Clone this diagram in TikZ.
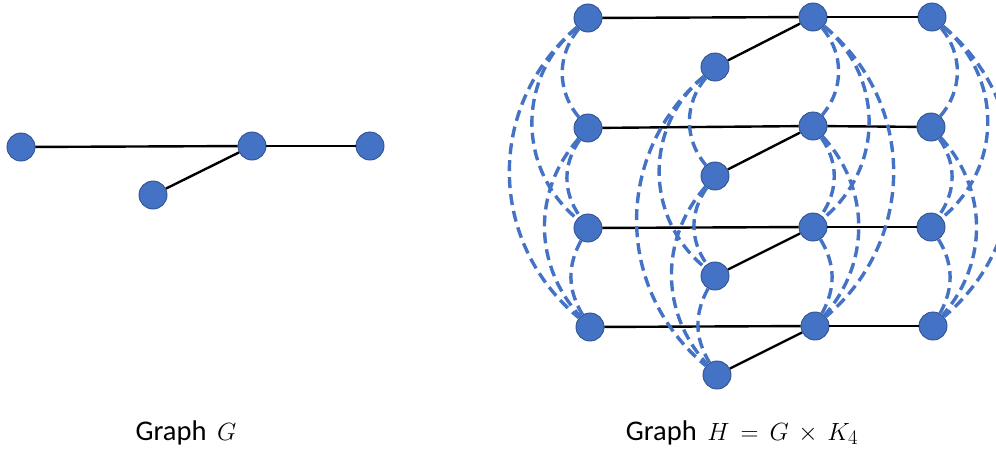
\documentclass[tikz,border=0pt]{standalone}
\usepackage{fontspec}
\setmainfont{Carlito}
\definecolor{vfill}{HTML}{4472C4}
\definecolor{vline}{HTML}{2F528F}
\definecolor{kblue}{HTML}{4472C4}

% the six edges of a K4 copy in one column, drawn as bent dashed arcs
\newcommand\kfourarcs[2]{%
  \draw[kedge] (#11) to[bend #2=40] (#12);
  \draw[kedge] (#12) to[bend #2=35] (#13);
  \draw[kedge] (#13) to[bend #2=30] (#14);
  \draw[kedge] (#11) to[bend #2=50, looseness=1.05] (#13);
  \draw[kedge] (#12) to[bend #2=42] (#14);
  \draw[kedge] (#11) to[bend #2=50, looseness=1.05] (#14);
}

\begin{document}
\begin{tikzpicture}[x=1pt, y=-1pt,
  vertex/.style={circle, fill=vfill, draw=vline, line width=0.9pt,
                 minimum size=28pt, inner sep=0pt},
  gedge/.style={black, line width=2.4pt},
  kedge/.style={kblue, line width=3.4pt, dash pattern=on 11pt off 6pt},
  caption/.style={anchor=base, inner sep=0pt, font=\fontsize{28.5}{34}\selectfont}]

\useasboundingbox (0,0) rectangle (996,450);
\clip (0,0) rectangle (996,450);

% ---- graph G ----
\node[vertex] (g1) at (21,147) {};
\node[vertex] (g2) at (252,146) {};
\node[vertex] (g3) at (370,146) {};
\node[vertex] (g4) at (153,195) {};
\draw[gedge] (g1) -- (g2);
\draw[gedge] (g2) -- (g3);
\draw[gedge] (g4) -- (g2);

% ---- graph H = G x K4: four layers ----
\node[vertex] (A1) at (588,18) {};
\node[vertex] (A2) at (588,128) {};
\node[vertex] (A3) at (588,228) {};
\node[vertex] (A4) at (590,327) {};

\node[vertex] (B1) at (813,17) {};
\node[vertex] (B2) at (813,126) {};
\node[vertex] (B3) at (813,227) {};
\node[vertex] (B4) at (815,326) {};

\node[vertex] (C1) at (932,17) {};
\node[vertex] (C2) at (931,127) {};
\node[vertex] (C3) at (931,227) {};
\node[vertex] (C4) at (933,326) {};

\node[vertex] (D1) at (715,67) {};
\node[vertex] (D2) at (715,176) {};
\node[vertex] (D3) at (715,276) {};
\node[vertex] (D4) at (717,375) {};

\foreach \i in {1,2,3,4} {
  \draw[gedge] (A\i) -- (B\i);
  \draw[gedge] (B\i) -- (C\i);
  \draw[gedge] (D\i) -- (B\i);
}

\kfourarcs{A}{right}
\kfourarcs{D}{right}
\kfourarcs{B}{left}
\kfourarcs{C}{left}

% ---- captions ----
\node[caption] (capG) at (186,440) {Graph $\,G$};
\node[caption] (capH) at (742,440) {Graph $\,H \,=\, G \,\times\, K_4$};
\end{tikzpicture}
\end{document}
